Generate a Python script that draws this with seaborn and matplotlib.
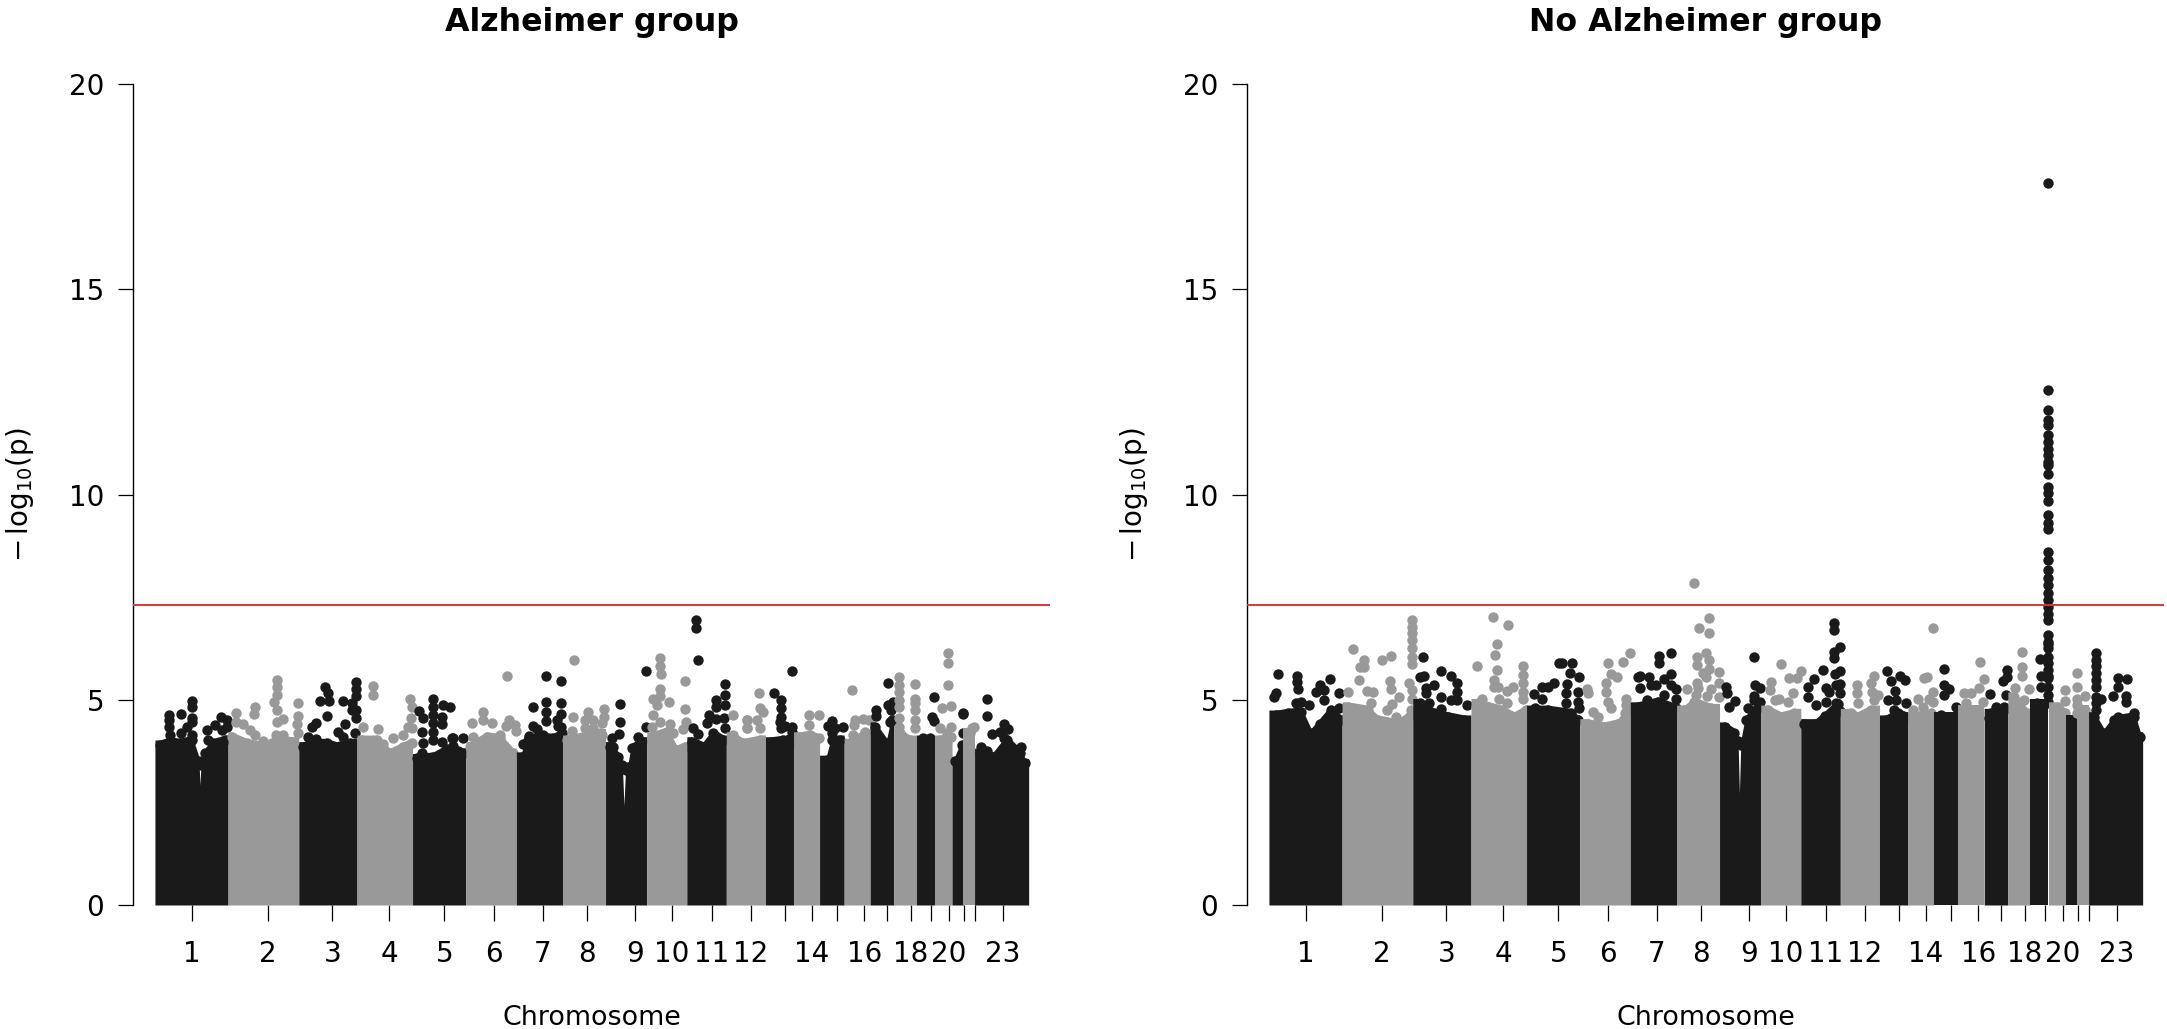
import numpy as np
import pandas as pd
import matplotlib
matplotlib.use("Agg")
import matplotlib.pyplot as plt
import seaborn as sns

# chromosome edges along the genome axis (Mb), ticks and labels
chrom_edges = [0, 250, 492, 691, 881, 1063, 1236, 1394, 1541, 1682, 1819, 1954, 2088, 2184,
               2273, 2357, 2446, 2527, 2604, 2666, 2726, 2765, 2803, 2988]
tick_pos = [127, 386, 607, 802, 990, 1160, 1327, 1479, 1642, 1767, 1904, 2038, 2154, 2247,
            2333, 2426, 2504, 2586, 2654, 2715, 2767, 2803, 2899]
tick_labels = ["1", "2", "3", "4", "5", "6", "7", "8", "9", "10", "11", "12", "", "14", "",
               "16", "", "18", "", "20", "", "", "23"]
y_ticks = [0, 5, 10, 15, 20]
threshold = 7.3

# Alzheimer group: height of the solid mass of SNPs
ad_floor_pos = [17, 51, 86, 126, 150, 154, 158, 171, 200, 240,
                262, 314, 371, 416, 473,
                507, 553, 587, 621, 667,
                707, 758, 804, 849, 878,
                895, 952, 1000, 1037, 1060,
                1077, 1134, 1180, 1226,
                1254, 1277, 1317, 1362, 1391,
                1408, 1465, 1522,
                1556, 1585, 1598, 1604, 1610, 1619, 1630, 1665,
                1699, 1750, 1784, 1813,
                1836, 1875, 1910, 1944,
                1978, 2012, 2069,
                2109, 2149, 2178,
                2206, 2240, 2270,
                2297, 2315, 2343,
                2377, 2428,
                2463, 2503, 2520,
                2548, 2582,
                2622, 2656,
                2685, 2722,
                2735, 2760,
                2788,
                2822, 2867, 2913, 2959, 2976]
ad_floor_val = [3.90, 3.98, 3.94, 4.02, 3.50, 2.80, 3.40, 3.70, 3.94, 4.02,
                4.10, 3.94, 3.86, 4.02, 3.98,
                3.86, 3.94, 3.94, 3.86, 3.94,
                4.02, 4.02, 3.70, 3.86, 3.94,
                3.57, 3.61, 3.80, 3.74, 3.70,
                3.86, 4.10, 4.06, 3.70,
                3.61, 4.02, 4.10, 4.06, 4.18,
                4.02, 4.10, 4.18,
                3.86, 3.61, 3.40, 2.30, 3.30, 3.37, 3.82, 3.98,
                4.10, 4.22, 3.78, 3.86,
                3.98, 3.86, 4.18, 4.02,
                4.10, 3.94, 4.02,
                3.98, 4.02, 3.94,
                4.10, 4.14, 4.06,
                3.53, 4.02, 4.02,
                3.94, 4.18,
                4.34, 3.94, 4.51,
                4.18, 4.02,
                4.02, 3.98,
                4.02, 4.10,
                3.50, 3.90,
                4.18,
                3.70, 3.61, 4.02, 3.70, 3.45]

# Alzheimer group: points standing above the mass
ad_peak_pos = [48, 48, 48, 88, 128, 128, 128, 128, 108, 88, 128, 51, 183, 179, 205, 226, 247, 247, 228,
               277, 277, 302, 325, 342, 371, 342, 340, 417, 417, 417, 407, 417, 417, 437, 414, 439, 490, 490, 485, 490,
               582, 593, 564, 595, 644, 688, 688, 688, 673, 673, 688, 688, 684, 587, 550, 538, 525, 550, 650, 627, 642,
               747, 747, 872, 880, 876, 867, 880, 849, 815, 713, 764, 781,
               952, 952, 952, 952, 952, 952, 986, 1009, 902, 918, 981, 981, 912, 918, 981, 1015, 912, 1018, 1052, 1018,
               1083, 1123, 1123, 1152, 1089, 1203, 1211, 1201, 1231, 1234, 1180,
               1337, 1387, 1292, 1337, 1337, 1388, 1388, 1337, 1374, 1380, 1292, 1308, 1388, 1258, 1280, 1328,
               1433, 1431, 1427, 1482, 1471, 1499, 1471, 1499, 1536, 1536, 1530, 1528, 1511,
               1590, 1590, 1588, 1562, 1568, 1680, 1678, 1653,
               1727, 1727, 1731, 1727, 1727, 1702, 1718, 1758, 1704, 1727, 1761, 1701, 1813, 1813, 1817, 1807, 1773,
               1849, 1849, 1857, 1950, 1950, 1950, 1918, 1918, 1895, 1918, 1841, 1858, 1887, 1946, 1950,
               1976, 2024, 2024, 1978, 2067, 2069, 2079, 2026, 2024, 2058, 2069,
               2180, 2118, 2140, 2140, 2140, 2138, 2155, 2180, 2180, 2170, 2140,
               2238, 2270, 2238,
               2315, 2303, 2326, 2354, 2315,
               2385, 2394, 2421, 2442, 2392, 2389, 2428,
               2506, 2466, 2466, 2508, 2516, 2514, 2525,
               2546, 2546, 2546, 2546, 2546, 2546, 2546, 2600, 2600, 2600, 2600, 2600, 2600,
               2626, 2651, 2664, 2656, 2664,
               2712, 2712, 2712, 2690, 2722, 2685, 2708, 2722,
               2762, 2763, 2763,
               2793, 2800,
               2847, 2847, 2902, 2919, 2862, 2890, 2902, 2824, 2847, 2962]
ad_peak_val = [4.63, 4.51, 4.34, 4.65, 4.97, 4.82, 4.55, 4.47, 4.34, 4.20, 4.14, 4.14, 4.02, 4.26, 4.39, 4.59, 4.51, 4.34, 4.26,
               4.67, 4.47, 4.41, 4.26, 4.14, 4.00, 4.82, 4.65, 5.48, 5.30, 5.12, 4.94, 4.75, 4.47, 4.52, 4.14, 4.14, 4.93, 4.60, 4.41, 4.18,
               5.30, 5.16, 4.97, 4.97, 4.98, 5.44, 5.25, 5.09, 4.91, 4.75, 4.75, 4.55, 4.18, 4.61, 4.44, 4.34, 4.10, 4.04, 4.41, 4.22, 4.10,
               5.34, 5.12, 5.03, 4.83, 4.55, 4.34, 4.30, 4.14, 4.08, 4.34, 4.28, 3.92,
               5.03, 4.83, 4.63, 4.43, 4.22, 4.02, 4.87, 4.82, 4.73, 4.55, 4.59, 4.41, 4.22, 3.95, 3.98, 4.06, 3.71, 4.08, 4.06, 3.88,
               4.43, 4.71, 4.51, 4.43, 4.10, 5.59, 4.51, 4.36, 4.39, 4.25, 4.14,
               5.59, 5.45, 4.82, 4.95, 4.71, 4.91, 4.65, 4.49, 4.51, 4.36, 4.36, 4.28, 4.34, 3.92, 4.12, 4.14,
               5.97, 4.59, 4.25, 4.70, 4.51, 4.51, 4.30, 4.30, 4.77, 4.59, 4.43, 4.14, 3.90,
               4.89, 4.47, 4.17, 4.08, 3.86, 5.71, 4.33, 4.10,
               6.01, 5.82, 5.63, 5.25, 5.09, 5.01, 4.86, 4.95, 4.63, 4.47, 4.41, 4.33, 5.45, 4.77, 4.45, 4.29, 4.18,
               6.94, 6.76, 5.97, 5.38, 5.12, 4.87, 5.00, 4.83, 4.63, 4.52, 4.30, 4.17, 4.43, 4.55, 4.30,
               4.63, 4.51, 4.30, 4.14, 5.17, 4.79, 4.69, 4.51, 4.30, 4.51, 4.30,
               5.69, 5.17, 4.99, 4.79, 4.59, 4.47, 4.36, 4.34, 4.22, 4.04, 4.30,
               4.64, 4.64, 4.39,
               4.49, 4.36, 4.30, 4.33, 4.18,
               5.23, 4.51, 4.52, 4.51, 4.39, 4.14, 4.22,
               5.42, 4.75, 4.60, 4.87, 4.75, 4.47, 4.95,
               5.55, 5.36, 5.20, 4.99, 4.83, 4.55, 4.34, 5.38, 5.03, 4.91, 4.75, 4.51, 4.30,
               4.08, 4.06, 5.07, 4.59, 4.49,
               6.15, 5.90, 5.37, 4.81, 4.85, 4.30, 4.18, 4.34,
               4.67, 4.65, 4.20,
               4.30, 4.33,
               5.03, 4.60, 4.41, 4.28, 4.16, 4.22, 4.06, 3.86, 3.76, 3.84]

# No Alzheimer group: height of the solid mass of SNPs
no_floor_pos = [24, 64, 110, 144, 173, 212, 247,
                269, 338, 372, 440, 480,
                515, 566, 611, 668,
                714, 794, 839, 879,
                902, 953, 1033, 1056,
                1090, 1147, 1193, 1233,
                1261, 1330, 1392,
                1421, 1455, 1512,
                1558, 1590, 1604, 1609, 1614, 1630, 1660,
                1706, 1751, 1797,
                1830, 1870, 1900, 1945,
                1991, 2013, 2058,
                2110, 2150, 2180,
                2207, 2264,
                2298, 2343,
                2378, 2423,
                2469, 2514,
                2549, 2594,
                2628, 2660,
                2697, 2724,
                2754,
                2790,
                2822, 2856, 2891, 2959, 2980]
no_floor_val = [4.63, 4.67, 4.71, 4.18, 4.42, 4.75, 4.51,
                4.83, 4.75, 4.51, 4.42, 4.59,
                4.91, 4.67, 4.59, 4.51,
                4.91, 4.75, 4.59, 4.75,
                4.75, 4.75, 4.67, 4.51,
                4.42, 4.34, 4.42, 4.75,
                4.83, 4.95, 4.79,
                4.75, 4.95, 4.79,
                4.34, 4.20, 4.00, 2.60, 3.90, 4.50, 4.72,
                4.75, 4.59, 4.67,
                4.42, 4.42, 4.60, 4.90,
                4.67, 4.59, 4.75,
                4.51, 4.67, 4.59,
                4.59, 4.67,
                4.59, 4.59,
                4.75, 4.75,
                4.67, 4.75,
                5.07, 4.67,
                4.91, 4.91,
                4.83, 4.67,
                4.51,
                4.75,
                4.59, 4.18, 4.51, 4.59, 4.10]

# No Alzheimer group: points standing above the mass
no_peak_pos = [31, 24, 19, 96, 96, 101, 93, 110, 138, 176, 161, 190, 190, 209, 240, 238,
               289, 326, 312, 326, 309, 272, 336, 356, 349, 386, 418, 414, 418, 446, 420, 404, 435, 480,
               488, 488, 488, 488, 488, 488, 488, 490, 490, 486,
               527, 532, 517, 537, 537, 564, 589, 622, 642, 642, 642, 589, 621, 678, 589, 549,
               766, 818, 781, 774, 712, 781, 870, 870, 870, 870, 870, 768, 768, 785, 836, 814, 788, 814, 728, 708,
               906, 933, 953, 974, 933, 910, 993, 1002, 1038, 1028, 1060, 1020, 1016, 1056, 1056, 1060, 1016,
               1092, 1088, 1107, 1124, 1159, 1212, 1235, 1170, 1190, 1153, 1153, 1159, 1170, 1221, 1221, 1216,
               1335, 1335, 1375, 1261, 1270, 1300, 1375, 1352, 1268, 1307, 1324, 1375, 1392, 1293, 1350, 1392,
               1452, 1505, 1472, 1505, 1493, 1464, 1506, 1464, 1506, 1483, 1495, 1464, 1540, 1540, 1430, 1466, 1512, 1498, 1461, 1540,
               1658, 1563, 1567, 1594, 1575, 1662, 1680, 1658, 1658, 1637, 1672, 1680,
               1751, 1717, 1818, 1780, 1805, 1715, 1746, 1791, 1729, 1774,
               1934, 1934, 1952, 1934, 1934, 1952, 1896, 1936, 1865, 1939, 1952, 1845, 1905, 1917, 1952, 1845, 1871, 1905, 1939, 1952,
               2070, 2011, 2058, 2011, 2064, 2083, 2013, 2070,
               2113, 2127, 2159, 2175, 2140, 2118, 2144, 2138, 2178,
               2270, 2241, 2252, 2220, 2256, 2270, 2270, 2238, 2201,
               2307, 2307, 2326, 2307, 2300, 2349,
               2431, 2444, 2378, 2400, 2429, 2383, 2442,
               2524, 2524, 2512, 2467, 2522, 2486, 2514, 2463,
               2575, 2575, 2575, 2552, 2600, 2583,
               2665, 2665, 2665, 2665, 2665, 2665, 2665, 2665, 2665, 2665, 2665, 2665, 2665, 2665, 2665, 2665,
               2665, 2665, 2665, 2665, 2665, 2665, 2665, 2665, 2665, 2665, 2665, 2665, 2665, 2665,
               2665, 2665, 2665, 2665, 2665, 2665, 2665, 2665, 2665,
               2638, 2641, 2665, 2640,
               2724, 2724,
               2765, 2765, 2765, 2765, 2765,
               2790,
               2828, 2828, 2828, 2828, 2828, 2828, 2828, 2828, 2828, 2847, 2885, 2902, 2936, 2902, 2930, 2930, 2902, 2959]
no_peak_val = [5.63, 5.16, 5.07, 5.58, 5.44, 5.25, 4.91, 4.95, 4.87, 5.36, 5.20, 5.24, 4.99, 5.50, 5.16, 4.81,
               6.23, 5.97, 5.79, 5.79, 5.48, 5.20, 5.22, 5.20, 4.91, 5.96, 6.07, 5.46, 5.27, 5.06, 4.90, 4.75, 4.59, 5.42,
               6.94, 6.78, 6.62, 6.45, 6.25, 6.05, 5.86, 5.24, 5.03, 4.75,
               6.04, 5.58, 5.55, 5.28, 5.16, 5.36, 5.71, 5.58, 5.40, 5.20, 4.99, 5.07, 4.99, 4.87, 4.77, 4.91,
               7.02, 6.83, 6.37, 6.10, 5.81, 5.72, 5.81, 5.60, 5.40, 5.20, 5.03, 5.48, 5.32, 5.30, 5.30, 5.22, 5.03, 4.91, 5.01, 4.83,
               5.13, 5.30, 5.32, 5.40, 5.01, 4.79, 5.90, 5.90, 5.89, 5.66, 5.55, 5.38, 5.16, 5.20, 4.95, 4.79, 4.91,
               5.16, 5.25, 4.71, 4.59, 5.90, 5.93, 6.13, 5.63, 5.56, 5.40, 5.20, 4.95, 4.79, 5.03, 4.87, 4.67,
               6.07, 5.90, 6.13, 5.56, 5.59, 5.55, 5.63, 5.50, 5.28, 5.36, 5.36, 5.36, 5.25, 4.99, 5.12, 5.03,
               7.85, 7.00, 6.76, 6.63, 6.15, 6.05, 5.97, 5.85, 5.76, 5.64, 5.56, 5.40, 5.68, 5.40, 5.27, 5.28, 5.27, 5.09, 5.12, 5.07,
               6.03, 5.32, 5.17, 4.97, 4.83, 5.36, 5.28, 5.09, 4.99, 4.81, 4.79, 4.95,
               5.87, 5.44, 5.71, 5.54, 5.52, 5.24, 5.03, 5.16, 5.00, 4.95,
               6.86, 6.70, 6.28, 6.17, 6.01, 5.71, 5.72, 5.63, 5.50, 5.37, 5.38, 5.32, 5.28, 5.20, 5.17, 5.07, 4.87, 4.95, 4.91, 4.73,
               5.58, 5.36, 5.40, 5.16, 5.20, 5.12, 4.91, 4.99,
               5.70, 5.46, 5.58, 5.48, 5.22, 4.99, 4.99, 4.75, 4.91,
               6.74, 5.52, 5.56, 5.03, 5.03, 5.20, 4.95, 4.83, 4.75,
               5.75, 5.37, 5.27, 5.11, 4.63, 4.83,
               5.92, 5.50, 5.16, 5.17, 5.28, 4.91, 4.95,
               5.72, 5.55, 5.46, 5.14, 5.11, 4.83, 4.83, 4.55,
               6.17, 5.80, 5.58, 5.28, 5.27, 5.00,
               17.59, 12.55, 12.06, 11.81, 11.69, 11.45, 11.28, 11.12, 10.96, 10.80, 10.72, 10.51, 10.19, 10.03, 9.85, 9.50,
               9.30, 9.17, 8.61, 8.40, 8.16, 7.96, 7.79, 7.59, 7.43, 7.27, 7.10, 6.94, 6.58, 6.37,
               6.25, 6.05, 5.89, 5.72, 5.52, 5.32, 5.11, 6.41, 4.95,
               5.99, 5.58, 5.59, 5.30,
               5.24, 4.97,
               5.64, 5.32, 5.03, 4.87, 4.67,
               5.09,
               6.13, 5.97, 5.81, 5.64, 5.48, 5.32, 5.07, 4.91, 4.75, 5.03, 5.09, 5.52, 5.50, 5.30, 5.09, 4.95, 4.59, 4.68]

BLACK = "#1a1a1a"
GREY = "#999999"
RED = "#d93636"
DOT_SIZE = 56
DOT_RADIUS = 0.12  # marker radius in y units, the mass reaches the top of its dots

sns.set_theme(style="white")
plt.rcParams["font.family"] = ["DejaVu Sans"]
plt.rcParams["mathtext.fontset"] = "dejavusans"
plt.rcParams["text.color"] = "black"
plt.rcParams["axes.labelcolor"] = "black"
plt.rcParams["xtick.color"] = "black"
plt.rcParams["ytick.color"] = "black"


def manhattan(ax, title, floor_pos, floor_val, peak_pos, peak_val):
    floor = pd.DataFrame({"pos": floor_pos, "val": floor_val})
    peaks = pd.DataFrame({"pos": peak_pos, "val": peak_val})
    points = pd.concat([floor, peaks])
    floor["chrom"] = np.searchsorted(chrom_edges, floor["pos"], side="right") - 1
    points["chrom"] = np.searchsorted(chrom_edges, points["pos"], side="right") - 1

    for i in range(len(chrom_edges) - 1):
        colour = BLACK if i % 2 == 0 else GREY
        top = floor[floor["chrom"] == i]
        x = [chrom_edges[i]] + top["pos"].tolist() + [chrom_edges[i + 1]]
        y = [top["val"].iloc[0]] + top["val"].tolist() + [top["val"].iloc[-1]]
        ax.fill_between(x, 0, np.array(y) + DOT_RADIUS, color=colour, linewidth=0, zorder=2 + i * 0.01)
        sns.scatterplot(data=points[points["chrom"] == i], x="pos", y="val", color=colour,
                        s=DOT_SIZE, linewidth=0, ax=ax, zorder=2 + i * 0.01, legend=False)

    ax.axhline(threshold, color=RED, linewidth=1.4, zorder=5)
    ax.set_xlim(-75, 3061)
    ax.set_ylim(0, 20)
    ax.set_xticks(tick_pos)
    ax.set_xticklabels(tick_labels)
    ax.set_yticks(y_ticks)
    ax.tick_params(axis="x", length=11.5, width=0.9, pad=14, labelsize=20, bottom=True)
    ax.tick_params(axis="y", length=10.8, width=0.9, pad=10, labelsize=20, left=True)
    sns.despine(ax=ax, bottom=True)
    ax.spines["left"].set_color("black")
    ax.spines["left"].set_linewidth(1.0)
    ax.set_title(title, fontsize=22.8, fontweight="bold", pad=38.5)
    ax.set_xlabel("Chromosome", fontsize=19.4)
    ax.xaxis.set_label_coords(0.5, -0.122)
    ax.set_ylabel(r"$-\,\log_{10}\!(\mathrm{p})$", fontsize=20)
    ax.yaxis.set_label_coords(-0.106, 0.5)


W, H = 2167, 1029
fig = plt.figure(figsize=(W / 100, H / 100), dpi=100)
ax1 = fig.add_axes([133 / W, (H - 905) / H, 917 / W, 821 / H])
ax2 = fig.add_axes([1247 / W, (H - 905) / H, 917 / W, 821 / H])

manhattan(ax1, "Alzheimer group", ad_floor_pos, ad_floor_val, ad_peak_pos, ad_peak_val)
manhattan(ax2, "No Alzheimer group", no_floor_pos, no_floor_val, no_peak_pos, no_peak_val)

fig.savefig("out.png", dpi=100)
